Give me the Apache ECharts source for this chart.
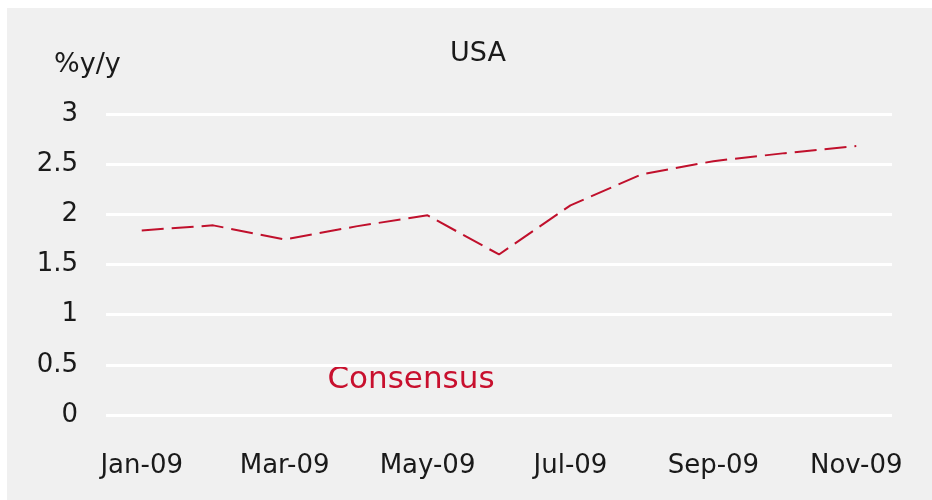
<!DOCTYPE html>
<html>
<head>
<meta charset="utf-8">
<script src="https://cdn.jsdelivr.net/npm/echarts@6/dist/echarts.min.js"></script>
<style>
html,body{margin:0;padding:0;background:#ffffff;width:932px;height:500px;overflow:hidden;}
#c{position:absolute;left:7px;top:8px;width:925px;height:492px;}
</style>
</head>
<body>
<div id="c"></div>
<script>
var categories = ['Jan-09','Feb-09','Mar-09','Apr-09','May-09','Jun-09','Jul-09','Aug-09','Sep-09','Oct-09','Nov-09'];
var consensus = [1.84, 1.89, 1.75, 1.88, 1.99, 1.60, 2.09, 2.40, 2.53, 2.61, 2.68];
var yTicks = [0, 0.5, 1, 1.5, 2, 2.5, 3];

var FONT = 'DejaVu Sans';
var chart = echarts.init(document.getElementById('c'), null, {renderer: 'canvas'});
chart.setOption({
  backgroundColor: '#f0f0f0',
  animation: false,
  grid: {left: 99, right: 40, top: 106, bottom: 85, containLabel: false},
  xAxis: {
    type: 'category',
    data: categories,
    boundaryGap: true,
    axisLine: {show: false},
    axisTick: {show: false},
    splitLine: {show: false},
    axisLabel: {
      interval: 1,
      margin: 38,
      color: '#1a1a1a',
      fontFamily: FONT,
      fontSize: 26
    }
  },
  yAxis: {
    type: 'value',
    min: yTicks[0],
    max: yTicks[yTicks.length - 1],
    interval: 0.5,
    axisLine: {show: false},
    axisTick: {show: false},
    splitLine: {show: true, lineStyle: {color: '#ffffff', width: 3}},
    axisLabel: {
      margin: 28,
      color: '#1a1a1a',
      fontFamily: FONT,
      fontSize: 26,
      padding: [4, 0, 0, 0]
    }
  },
  series: [{
    name: 'Consensus',
    type: 'line',
    data: consensus,
    showSymbol: false,
    symbol: 'none',
    lineStyle: {color: '#c0102c', width: 2, type: [22, 8]}
  }],
  graphic: [
    {type: 'text', x: 471, y: 46, style: {text: 'USA', fontFamily: FONT, fontSize: 27, fill: '#1a1a1a', textAlign: 'center', textVerticalAlign: 'middle'}},
    {type: 'text', x: 47, y: 57, style: {text: '%y/y', fontFamily: FONT, fontSize: 27, fill: '#1a1a1a', textAlign: 'left', textVerticalAlign: 'middle'}},
    {type: 'text', x: 404, y: 372, style: {text: 'Consensus', fontFamily: FONT, fontSize: 31, fill: '#c8102e', textAlign: 'center', textVerticalAlign: 'middle'}}
  ]
});
</script>
</body>
</html>
